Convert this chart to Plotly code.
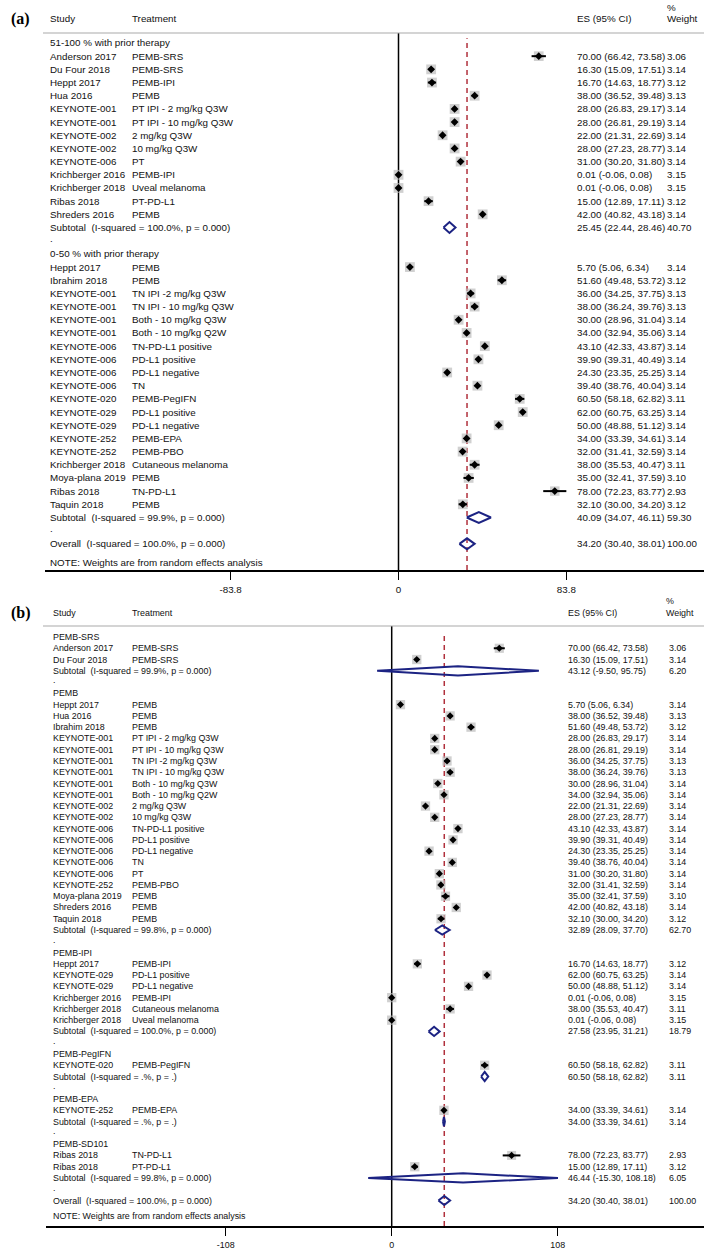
import plotly.graph_objects as go

# ================= Panel (a) data =================
A_GROUP_LABELS = ["51-100 % with prior therapy", "0-50 % with prior therapy"]

A1_STUDY = ["Anderson 2017", "Du Four 2018", "Heppt 2017", "Hua 2016", "KEYNOTE-001", "KEYNOTE-001",
            "KEYNOTE-002", "KEYNOTE-002", "KEYNOTE-006", "Krichberger 2016", "Krichberger 2018",
            "Ribas 2018", "Shreders 2016"]
A1_TREAT = ["PEMB-SRS", "PEMB-SRS", "PEMB-IPI", "PEMB", "PT IPI - 2 mg/kg Q3W", "PT IPI - 10 mg/kg Q3W",
            "2 mg/kg Q3W", "10 mg/kg Q3W", "PT", "PEMB-IPI", "Uveal melanoma", "PT-PD-L1", "PEMB"]
A1_ES = [70.00, 16.30, 16.70, 38.00, 28.00, 28.00, 22.00, 28.00, 31.00, 0.01, 0.01, 15.00, 42.00]
A1_LO = [66.42, 15.09, 14.63, 36.52, 26.83, 26.81, 21.31, 27.23, 30.20, -0.06, -0.06, 12.89, 40.82]
A1_HI = [73.58, 17.51, 18.77, 39.48, 29.17, 29.19, 22.69, 28.77, 31.80, 0.08, 0.08, 17.11, 43.18]
A1_W = [3.06, 3.14, 3.12, 3.13, 3.14, 3.14, 3.14, 3.14, 3.14, 3.15, 3.15, 3.12, 3.14]

A2_STUDY = ["Heppt 2017", "Ibrahim 2018", "KEYNOTE-001", "KEYNOTE-001", "KEYNOTE-001", "KEYNOTE-001",
            "KEYNOTE-006", "KEYNOTE-006", "KEYNOTE-006", "KEYNOTE-006", "KEYNOTE-020", "KEYNOTE-029",
            "KEYNOTE-029", "KEYNOTE-252", "KEYNOTE-252", "Krichberger 2018", "Moya-plana 2019",
            "Ribas 2018", "Taquin 2018"]
A2_TREAT = ["PEMB", "PEMB", "TN IPI -2 mg/kg Q3W", "TN IPI - 10 mg/kg Q3W", "Both - 10 mg/kg Q3W",
            "Both - 10 mg/kg Q2W", "TN-PD-L1 positive", "PD-L1 positive", "PD-L1 negative", "TN",
            "PEMB-PegIFN", "PD-L1 positive", "PD-L1 negative", "PEMB-EPA", "PEMB-PBO",
            "Cutaneous melanoma", "PEMB", "TN-PD-L1", "PEMB"]
A2_ES = [5.70, 51.60, 36.00, 38.00, 30.00, 34.00, 43.10, 39.90, 24.30, 39.40, 60.50, 62.00, 50.00,
         34.00, 32.00, 38.00, 35.00, 78.00, 32.10]
A2_LO = [5.06, 49.48, 34.25, 36.24, 28.96, 32.94, 42.33, 39.31, 23.35, 38.76, 58.18, 60.75, 48.88,
         33.39, 31.41, 35.53, 32.41, 72.23, 30.00]
A2_HI = [6.34, 53.72, 37.75, 39.76, 31.04, 35.06, 43.87, 40.49, 25.25, 40.04, 62.82, 63.25, 51.12,
         34.61, 32.59, 40.47, 37.59, 83.77, 34.20]
A2_W = [3.14, 3.12, 3.13, 3.13, 3.14, 3.14, 3.14, 3.14, 3.14, 3.14, 3.11, 3.14, 3.14, 3.14, 3.14,
        3.11, 3.10, 2.93, 3.12]

A_SUB_LABEL = ["Subtotal  (I-squared = 100.0%, p = 0.000)", "Subtotal  (I-squared = 99.9%, p = 0.000)"]
A_SUB_ES = [25.45, 40.09]
A_SUB_LO = [22.44, 34.07]
A_SUB_HI = [28.46, 46.11]
A_SUB_W = [40.70, 59.30]
A_TICKS = [-83.8, 0, 83.8]
A_TICKTEXT = ["-83.8", "0", "83.8"]

# ================= Panel (b) data =================
B_GROUP_LABELS = ["PEMB-SRS", "PEMB", "PEMB-IPI", "PEMB-PegIFN", "PEMB-EPA", "PEMB-SD101"]

B1_STUDY = ["Anderson 2017", "Du Four 2018"]
B1_TREAT = ["PEMB-SRS", "PEMB-SRS"]
B1_ES = [70.00, 16.30]
B1_LO = [66.42, 15.09]
B1_HI = [73.58, 17.51]
B1_W = [3.06, 3.14]

B2_STUDY = ["Heppt 2017", "Hua 2016", "Ibrahim 2018", "KEYNOTE-001", "KEYNOTE-001", "KEYNOTE-001",
            "KEYNOTE-001", "KEYNOTE-001", "KEYNOTE-001", "KEYNOTE-002", "KEYNOTE-002", "KEYNOTE-006",
            "KEYNOTE-006", "KEYNOTE-006", "KEYNOTE-006", "KEYNOTE-006", "KEYNOTE-252", "Moya-plana 2019",
            "Shreders 2016", "Taquin 2018"]
B2_TREAT = ["PEMB", "PEMB", "PEMB", "PT IPI - 2 mg/kg Q3W", "PT IPI - 10 mg/kg Q3W", "TN IPI -2 mg/kg Q3W",
            "TN IPI - 10 mg/kg Q3W", "Both - 10 mg/kg Q3W", "Both - 10 mg/kg Q2W", "2 mg/kg Q3W",
            "10 mg/kg Q3W", "TN-PD-L1 positive", "PD-L1 positive", "PD-L1 negative", "TN", "PT",
            "PEMB-PBO", "PEMB", "PEMB", "PEMB"]
B2_ES = [5.70, 38.00, 51.60, 28.00, 28.00, 36.00, 38.00, 30.00, 34.00, 22.00, 28.00, 43.10, 39.90,
         24.30, 39.40, 31.00, 32.00, 35.00, 42.00, 32.10]
B2_LO = [5.06, 36.52, 49.48, 26.83, 26.81, 34.25, 36.24, 28.96, 32.94, 21.31, 27.23, 42.33, 39.31,
         23.35, 38.76, 30.20, 31.41, 32.41, 40.82, 30.00]
B2_HI = [6.34, 39.48, 53.72, 29.17, 29.19, 37.75, 39.76, 31.04, 35.06, 22.69, 28.77, 43.87, 40.49,
         25.25, 40.04, 31.80, 32.59, 37.59, 43.18, 34.20]
B2_W = [3.14, 3.13, 3.12, 3.14, 3.14, 3.13, 3.13, 3.14, 3.14, 3.14, 3.14, 3.14, 3.14, 3.14, 3.14,
        3.14, 3.14, 3.10, 3.14, 3.12]

B3_STUDY = ["Heppt 2017", "KEYNOTE-029", "KEYNOTE-029", "Krichberger 2016", "Krichberger 2018",
            "Krichberger 2018"]
B3_TREAT = ["PEMB-IPI", "PD-L1 positive", "PD-L1 negative", "PEMB-IPI", "Cutaneous melanoma",
            "Uveal melanoma"]
B3_ES = [16.70, 62.00, 50.00, 0.01, 38.00, 0.01]
B3_LO = [14.63, 60.75, 48.88, -0.06, 35.53, -0.06]
B3_HI = [18.77, 63.25, 51.12, 0.08, 40.47, 0.08]
B3_W = [3.12, 3.14, 3.14, 3.15, 3.11, 3.15]

B4_STUDY = ["KEYNOTE-020"]
B4_TREAT = ["PEMB-PegIFN"]
B4_ES = [60.50]
B4_LO = [58.18]
B4_HI = [62.82]
B4_W = [3.11]

B5_STUDY = ["KEYNOTE-252"]
B5_TREAT = ["PEMB-EPA"]
B5_ES = [34.00]
B5_LO = [33.39]
B5_HI = [34.61]
B5_W = [3.14]

B6_STUDY = ["Ribas 2018", "Ribas 2018"]
B6_TREAT = ["TN-PD-L1", "PT-PD-L1"]
B6_ES = [78.00, 15.00]
B6_LO = [72.23, 12.89]
B6_HI = [83.77, 17.11]
B6_W = [2.93, 3.12]

B_SUB_LABEL = ["Subtotal  (I-squared = 99.9%, p = 0.000)", "Subtotal  (I-squared = 99.8%, p = 0.000)",
               "Subtotal  (I-squared = 100.0%, p = 0.000)", "Subtotal  (I-squared = .%, p = .)",
               "Subtotal  (I-squared = .%, p = .)", "Subtotal  (I-squared = 99.8%, p = 0.000)"]
B_SUB_ES = [43.12, 32.89, 27.58, 60.50, 34.00, 46.44]
B_SUB_LO = [-9.50, 28.09, 23.95, 58.18, 33.39, -15.30]
B_SUB_HI = [95.75, 37.70, 31.21, 62.82, 34.61, 108.18]
B_SUB_W = [6.20, 62.70, 18.79, 3.11, 3.14, 6.05]
B_TICKS = [-108, 0, 108]
B_TICKTEXT = ["-108", "0", "108"]

# ================= Overall (both panels) =================
OVERALL_LABEL = "Overall  (I-squared = 100.0%, p = 0.000)"
OVERALL_ES = 34.20
OVERALL_LO = 30.40
OVERALL_HI = 38.01
OVERALL_W = 100.00
NOTE = "NOTE: Weights are from random effects analysis"

# ================= styling =================
W_PX, H_PX = 704, 1250
FONT = "Liberation Sans, Arial, sans-serif"
TXT = "#111111"
BOX = "#bcbcbc"
NAVY = "#1c2383"
RED = "#b0303c"


def py(px):
    return 1 - px / H_PX


def sp(s):
    return s.replace("  ", " \u00a0")


A_GROUPS = [
    dict(label=A_GROUP_LABELS[0], study=A1_STUDY, treat=A1_TREAT, es=A1_ES, lo=A1_LO, hi=A1_HI, w=A1_W),
    dict(label=A_GROUP_LABELS[1], study=A2_STUDY, treat=A2_TREAT, es=A2_ES, lo=A2_LO, hi=A2_HI, w=A2_W),
]
for i, g in enumerate(A_GROUPS):
    g.update(sub_label=A_SUB_LABEL[i], sub_es=A_SUB_ES[i], sub_lo=A_SUB_LO[i], sub_hi=A_SUB_HI[i],
             sub_w=A_SUB_W[i])

B_LISTS = [(B1_STUDY, B1_TREAT, B1_ES, B1_LO, B1_HI, B1_W), (B2_STUDY, B2_TREAT, B2_ES, B2_LO, B2_HI, B2_W),
           (B3_STUDY, B3_TREAT, B3_ES, B3_LO, B3_HI, B3_W), (B4_STUDY, B4_TREAT, B4_ES, B4_LO, B4_HI, B4_W),
           (B5_STUDY, B5_TREAT, B5_ES, B5_LO, B5_HI, B5_W), (B6_STUDY, B6_TREAT, B6_ES, B6_LO, B6_HI, B6_W)]
B_GROUPS = []
for i, (s, t, e, l, h, w) in enumerate(B_LISTS):
    B_GROUPS.append(dict(label=B_GROUP_LABELS[i], study=s, treat=t, es=e, lo=l, hi=h, w=w,
                         sub_label=B_SUB_LABEL[i], sub_es=B_SUB_ES[i], sub_lo=B_SUB_LO[i],
                         sub_hi=B_SUB_HI[i], sub_w=B_SUB_W[i]))

PANELS = [
    dict(name="(a)", groups=A_GROUPS, ticks=A_TICKS, ticktext=A_TICKTEXT, xa="x", ya="y",
         xkey="xaxis", ykey="yaxis",
         zero_px=398.5, px_per_unit=167.9 / 83.8, axis_left_px=45,
         top_px=33, bottom_px=570, row0_px=43, row_step=13.18,
         col_study=49, col_treat=131, col_es=576, col_w=666, w_hdr=666,
         hdr_px=19, pct_px=7, note_px=562, fs=9.8, box=9.8, dmd=6, hh=5.5, lab_x=9),
    dict(name="(b)", groups=B_GROUPS, ticks=B_TICKS, ticktext=B_TICKTEXT, xa="x2", ya="y2",
         xkey="xaxis2", ykey="yaxis2",
         zero_px=391.7, px_per_unit=166.0 / 108.0, axis_left_px=46,
         top_px=626, bottom_px=1226, row0_px=637, row_step=11.27,
         col_study=52, col_treat=131, col_es=567, col_w=668, w_hdr=665,
         hdr_px=613, pct_px=601, note_px=1216, fs=8.9, box=9.3, dmd=5.5, hh=4.6, lab_x=9),
]

fig = go.Figure()
annotations = []
shapes = []
layout_axes = {}

for P in PANELS:
    s = P["px_per_unit"]
    r0 = (P["axis_left_px"] - P["zero_px"]) / s
    r1 = (W_PX - P["zero_px"]) / s
    rtop = -(P["row0_px"] - P["top_px"]) / P["row_step"]
    rbot = rtop + (P["bottom_px"] - P["top_px"]) / P["row_step"]

    layout_axes[P["xkey"]] = dict(
        domain=[P["axis_left_px"] / W_PX, 1], range=[r0, r1], anchor=P["ya"],
        tickmode="array", tickvals=P["ticks"], ticktext=P["ticktext"],
        ticks="outside", ticklen=8, tickwidth=1.5, tickcolor="black",
        showline=True, linecolor="black", linewidth=1.5, showgrid=False, zeroline=False,
        tickfont=dict(family=FONT, size=P["fs"], color=TXT), automargin=False, fixedrange=True,
        ticklabelstandoff=2)
    layout_axes[P["ykey"]] = dict(
        domain=[py(P["bottom_px"]), py(P["top_px"])], range=[rbot, rtop], anchor=P["xa"],
        visible=False, showgrid=False, zeroline=False, fixedrange=True)

    # reference lines
    shapes.append(dict(type="line", xref=P["xa"], yref=P["ya"] + " domain", x0=0, x1=0, y0=0, y1=1,
                       line=dict(color="black", width=1.5), layer="below"))
    shapes.append(dict(type="line", xref=P["xa"], yref=P["ya"] + " domain", x0=OVERALL_ES, x1=OVERALL_ES,
                       y0=0, y1=0.99, line=dict(color=RED, width=1.5, dash="5px,4px"), layer="below"))
    # header rule
    shapes.append(dict(type="line", xref="paper", yref="paper", x0=43 / W_PX, x1=1,
                       y0=py(P["top_px"]), y1=py(P["top_px"]),
                       line=dict(color="#aaaaaa", width=1.2), layer="below"))

    def txt(xpx, yval, text, yref=P["ya"], size=P["fs"]):
        annotations.append(dict(x=(xpx - 1) / W_PX, xref="paper", y=yval, yref=yref, text=sp(text),
                                showarrow=False, xanchor="left", yanchor="middle",
                                font=dict(family=FONT, size=size, color=TXT)))

    # headers
    txt(P["col_study"], py(P["hdr_px"]), "Study", yref="paper")
    txt(P["col_treat"], py(P["hdr_px"]), "Treatment", yref="paper")
    txt(P["col_es"], py(P["hdr_px"]), "ES (95% CI)", yref="paper")
    txt(P["w_hdr"], py(P["hdr_px"]), "Weight", yref="paper")
    txt(P["w_hdr"], py(P["pct_px"]), "%", yref="paper")
    annotations.append(dict(x=P["lab_x"] / W_PX, xref="paper", y=py(P["hdr_px"]), yref="paper",
                            text="<b>%s</b>" % P["name"], showarrow=False, xanchor="left", yanchor="middle",
                            font=dict(family="Liberation Serif, Times New Roman, serif", size=16, color="black")))

    sq_x, sq_y, sq_s = [], [], []
    ci_x, ci_y = [], []
    pt_x, pt_y = [], []
    dmds = []
    row = 0
    for g in P["groups"]:
        txt(P["col_study"], row, g["label"])
        row += 1
        for i in range(len(g["es"])):
            txt(P["col_study"], row, g["study"][i])
            txt(P["col_treat"], row, g["treat"][i])
            txt(P["col_es"], row, "%.2f (%.2f, %.2f)" % (g["es"][i], g["lo"][i], g["hi"][i]))
            txt(P["col_w"], row, "%.2f" % g["w"][i])
            sq_x.append(g["es"][i]); sq_y.append(row)
            sq_s.append(P["box"] * (g["w"][i] / 3.14) ** 0.5)
            ci_x += [g["lo"][i], g["hi"][i], None]; ci_y += [row, row, None]
            pt_x.append(g["es"][i]); pt_y.append(row)
            row += 1
        txt(P["col_study"], row, g["sub_label"])
        txt(P["col_es"], row, "%.2f (%.2f, %.2f)" % (g["sub_es"], g["sub_lo"], g["sub_hi"]))
        txt(P["col_w"], row, "%.2f" % g["sub_w"])
        dmds.append((g["sub_lo"], g["sub_es"], g["sub_hi"], row))
        row += 1
        txt(P["col_study"], row - 0.15, ".")
        row += 1
    txt(P["col_study"], row, OVERALL_LABEL)
    txt(P["col_es"], row, "%.2f (%.2f, %.2f)" % (OVERALL_ES, OVERALL_LO, OVERALL_HI))
    txt(P["col_w"], row, "%.2f" % OVERALL_W)
    dmds.append((OVERALL_LO, OVERALL_ES, OVERALL_HI, row))
    annotations.append(dict(x=(P["col_study"] - 1) / W_PX, xref="paper", y=py(P["note_px"]), yref="paper",
                            text=NOTE, showarrow=False, xanchor="left", yanchor="middle",
                            font=dict(family=FONT, size=P["fs"], color=TXT)))

    h = P["hh"] / P["row_step"]
    fig.add_trace(go.Scatter(x=sq_x, y=sq_y, mode="markers", xaxis=P["xa"], yaxis=P["ya"],
                             marker=dict(symbol="square", size=sq_s, color=BOX, line=dict(width=0)),
                             hoverinfo="skip"))
    fig.add_trace(go.Scatter(x=ci_x, y=ci_y, mode="lines", xaxis=P["xa"], yaxis=P["ya"],
                             line=dict(color="black", width=2), hoverinfo="skip", connectgaps=False))
    fig.add_trace(go.Scatter(x=pt_x, y=pt_y, mode="markers", xaxis=P["xa"], yaxis=P["ya"],
                             marker=dict(symbol="diamond", size=P["dmd"], color="black", line=dict(width=0)),
                             hoverinfo="skip"))
    for lo, es, hi, r in dmds:
        fig.add_trace(go.Scatter(x=[lo, es, hi, es, lo], y=[r, r - h, r, r + h, r], mode="lines",
                                 xaxis=P["xa"], yaxis=P["ya"], line=dict(color=NAVY, width=2),
                                 hoverinfo="skip"))

fig.update_layout(width=W_PX, height=H_PX, margin=dict(l=0, r=0, t=0, b=0, autoexpand=False),
                  paper_bgcolor="white", plot_bgcolor="white", showlegend=False,
                  annotations=annotations, shapes=shapes, **layout_axes)

fig.write_html("out.html", config={"displayModeBar": False, "staticPlot": True},
               post_script="document.body.style.margin='0px';document.body.style.overflow='hidden';")
